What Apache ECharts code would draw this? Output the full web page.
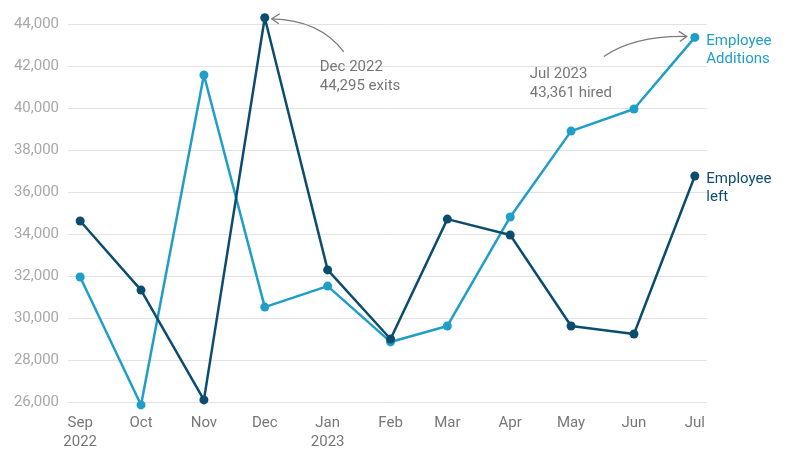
<!DOCTYPE html>
<html>
<head>
<meta charset="utf-8">
<title>Employee additions and exits</title>
<script src="https://cdn.jsdelivr.net/npm/echarts@6/dist/echarts.min.js"></script>
<style>
  html, body { margin: 0; padding: 0; background: #fff; }
  #chart { width: 800px; height: 456px; }
</style>
</head>
<body>
<div id="chart"></div>
<script>
// data
var months = ['2022-09-01', '2022-10-01', '2022-11-01', '2022-12-01', '2023-01-01', '2023-02-01',
              '2023-03-01', '2023-04-01', '2023-05-01', '2023-06-01', '2023-07-01'];
var monthLabels = ['Sep\n2022', 'Oct', 'Nov', 'Dec', 'Jan\n2023', 'Feb', 'Mar', 'Apr', 'May', 'Jun', 'Jul'];
var additions = [31950, 25860, 41570, 30520, 31520, 28860, 29620, 34810, 38900, 39950, 43361];
var leftJob   = [34620, 31330, 26100, 44295, 32290, 29000, 34710, 33950, 29620, 29240, 36760];

var cAdd = '#1f9ec8';
var cLeft = '#0c4d6f';
var cText = '#777777';

// x position = days since the first month, so months keep their real spacing
var DAY = 86400000;
var t0 = new Date(months[0] + 'T00:00:00Z').getTime();
var days = months.map(function (m) {
  return Math.round((new Date(m + 'T00:00:00Z').getTime() - t0) / DAY);
});

function pairs(vals, name, color) {
  return vals.map(function (v, i) {
    var item = { value: [days[i], v] };
    if (i === vals.length - 1) {
      item.label = {
        show: true, formatter: name, position: [16, -1],
        align: 'left', verticalAlign: 'top',
        color: color, fontSize: 15, lineHeight: 18, fontFamily: 'Roboto'
      };
    }
    return item;
  });
}

var chart = echarts.init(document.getElementById('chart'));
chart.setOption({
  animation: false,
  textStyle: { fontFamily: 'Roboto' },
  grid: { left: 68, right: 93, top: 24, bottom: 54, containLabel: false },
  xAxis: {
    type: 'value',
    min: days[0] - 6,
    max: days[days.length - 1] + 6,
    axisLine: { show: false },
    axisTick: { show: false },
    splitLine: { show: false },
    axisLabel: {
      customValues: days,
      color: cText, fontSize: 15, lineHeight: 19, margin: 12,
      formatter: function (v) {
        var i = days.indexOf(v);
        return i >= 0 ? monthLabels[i] : '';
      }
    }
  },
  yAxis: {
    type: 'value',
    min: 26000, max: 44000, interval: 2000,
    axisLine: { show: false },
    axisTick: { show: false },
    splitLine: { lineStyle: { color: '#e3e3e3', width: 1 } },
    axisLabel: {
      color: '#a8a8a8', fontSize: 15, margin: 9,
      formatter: function (v) { return v.toLocaleString('en-US'); }
    }
  },
  series: [
    {
      name: 'Employee Additions', type: 'line', clip: false,
      data: pairs(additions, 'Employee\nAdditions', cAdd),
      symbol: 'circle', symbolSize: 9,
      lineStyle: { color: cAdd, width: 2.5 },
      itemStyle: { color: cAdd },
      z: 2
    },
    {
      name: 'Employee left', type: 'line', clip: false,
      data: pairs(leftJob, 'Employee\nleft', cLeft),
      symbol: 'circle', symbolSize: 9,
      lineStyle: { color: cLeft, width: 2.5 },
      itemStyle: { color: cLeft },
      z: 3
    }
  ]
});

// annotations placed relative to the data points
var pDec = chart.convertToPixel({ gridIndex: 0 }, [days[3], leftJob[3]]);
var pJul = chart.convertToPixel({ gridIndex: 0 }, [days[10], additions[10]]);
var arrowStyle = { stroke: '#7a7a7a', lineWidth: 1.3, fill: null };
var noteStyle = { fill: cText, fontSize: 15, lineHeight: 19, fontFamily: 'Roboto' };

chart.setOption({
  graphic: [
    {
      type: 'bezierCurve', silent: true,
      shape: { x1: pDec[0] + 79, y1: pDec[1] + 34, cpx1: pDec[0] + 55, cpy1: pDec[1] + 2,
               x2: pDec[0] + 7, y2: pDec[1] + 1 },
      style: arrowStyle
    },
    {
      type: 'polyline', silent: true,
      shape: { points: [[pDec[0] + 15, pDec[1] - 4], [pDec[0] + 7, pDec[1] + 1], [pDec[0] + 14, pDec[1] + 6]] },
      style: arrowStyle
    },
    {
      type: 'text', silent: true, left: pDec[0] + 55, top: pDec[1] + 40,
      style: Object.assign({ text: 'Dec 2022\n44,295 exits' }, noteStyle)
    },
    {
      type: 'bezierCurve', silent: true,
      shape: { x1: pJul[0] - 91, y1: pJul[1] + 19, cpx1: pJul[0] - 60, cpy1: pJul[1] - 2,
               x2: pJul[0] - 8, y2: pJul[1] - 1 },
      style: arrowStyle
    },
    {
      type: 'polyline', silent: true,
      shape: { points: [[pJul[0] - 16, pJul[1] - 6], [pJul[0] - 8, pJul[1] - 1], [pJul[0] - 15, pJul[1] + 4]] },
      style: arrowStyle
    },
    {
      type: 'text', silent: true, left: pJul[0] - 165, top: pJul[1] + 27,
      style: Object.assign({ text: 'Jul 2023\n43,361 hired' }, noteStyle)
    }
  ]
});
</script>
</body>
</html>
